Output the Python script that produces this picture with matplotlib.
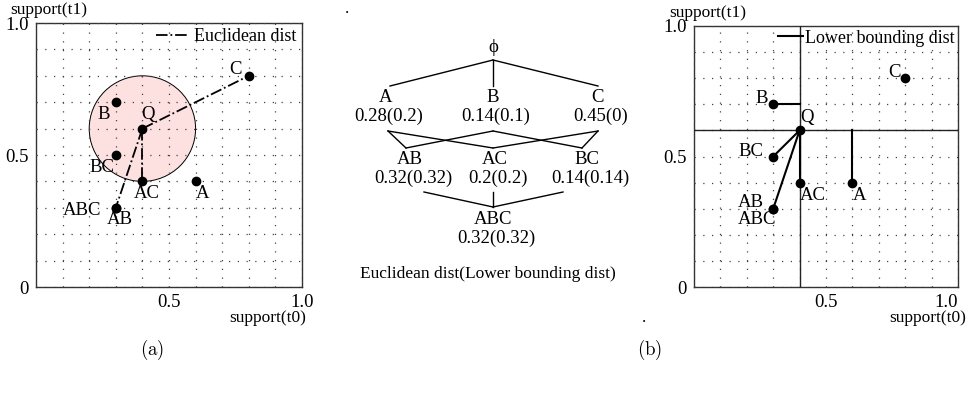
import matplotlib
matplotlib.use('Agg')
import matplotlib.pyplot as plt
from matplotlib.patches import Circle

plt.rcParams['font.family'] = ['Liberation Serif', 'DejaVu Serif']
plt.rcParams['mathtext.fontset'] = 'cm'

# points in (support(t0), support(t1))
names = ['Q', 'A', 'B', 'C', 'AB', 'AC', 'BC', 'ABC']
sup_t0 = [0.4, 0.6, 0.3, 0.8, 0.3, 0.4, 0.3, 0.3]
sup_t1 = [0.6, 0.4, 0.7, 0.8, 0.3, 0.4, 0.5, 0.3]
radius = 0.2  # query range

# lines drawn from Q in panel (a)
euclid_to = ['C', 'AB', 'AC']
# lower bounding segments in panel (b): (from, to)
lower_segs = [((0.3, 0.7), (0.4, 0.7)), ((0.4, 0.6), (0.3, 0.5)),
              ((0.4, 0.6), (0.3, 0.3)), ((0.4, 0.6), (0.4, 0.4)),
              ((0.6, 0.4), (0.6, 0.6))]

# lattice values: Euclidean dist (lower bounding dist)
lat_nodes = ['A', 'B', 'C', 'AB', 'AC', 'BC', 'ABC']
lat_euclid = [0.28, 0.14, 0.45, 0.32, 0.2, 0.14, 0.32]
lat_lower = [0.2, 0.1, 0, 0.32, 0.2, 0.14, 0.32]

# label offsets in pixels
off_a = {'Q': (6, 14), 'A': (7, -12), 'B': (-12, -12), 'C': (-13, 6),
         'AB': (4, -12), 'AC': (4, -12), 'BC': (-14, -12), 'ABC': (-34, -3)}
off_b = {'Q': (7, 13), 'A': (7, -13), 'B': (-11, 6), 'C': (-11, 6),
         'AB': (-22, 6), 'AC': (13, -13), 'BC': (-22, 5), 'ABC': (-16, -11)}

W, H = 966, 396
fig = plt.figure(figsize=(W / 100, H / 100), dpi=100)

fs = 12.5   # axis text
fl = 13.5   # point labels / lattice


def setup(ax):
    ax.set_xlim(0, 1)
    ax.set_ylim(0, 1)
    ax.set_xticks([i / 10 for i in range(11)])
    ax.set_yticks([i / 10 for i in range(11)])
    ax.set_xticklabels(['' if i not in (5, 10) else f'{i/10:.1f}' for i in range(11)])
    ax.set_yticklabels(['0' if i == 0 else ('' if i not in (5, 10) else f'{i/10:.1f}')
                        for i in range(11)])
    ax.tick_params(length=0, labelsize=fl, pad=5)
    ax.grid(True, color='#444444', linestyle=(0, (1, 6)), linewidth=0.9)
    ax.set_axisbelow(False)
    for s in ax.spines.values():
        s.set_linewidth(1.0)
        s.set_color('#333333')


def label_points(ax, offs):
    for n, x, y in zip(names, sup_t0, sup_t1):
        dx, dy = offs[n]
        ax.annotate(n, (x, y), xytext=(dx, dy), textcoords='offset pixels',
                    ha='center', va='center', fontsize=fl)


# panel (a)
ax1 = fig.add_axes([36 / W, 1 - 287 / H, 266 / W, 264 / H])
setup(ax1)
pt = dict(zip(names, zip(sup_t0, sup_t1)))
q = pt['Q']
ax1.add_patch(Circle(q, radius, facecolor='#fde0e0', edgecolor='black',
                     linewidth=0.7, zorder=0.5))
for i, n in enumerate(euclid_to):
    ax1.plot([q[0], pt[n][0]], [q[1], pt[n][1]], color='black', lw=1.3,
             linestyle='-.', label='Euclidean dist' if i == 0 else None, zorder=3)
ax1.plot(sup_t0, sup_t1, 'o', color='black', ms=6, zorder=4)
label_points(ax1, off_a)
ax1.legend(loc='upper right', frameon=False, fontsize=fl - 0.5, handlelength=1.8,
           handletextpad=0.3, borderaxespad=0.1, borderpad=0.2)
fig.text(49 / W, 1 - 10 / H, 'support(t1)', ha='center', va='center', fontsize=fs)
fig.text(268 / W, 1 - 318 / H, 'support(t0)', ha='center', va='center', fontsize=fs)

# panel (b)
ax2 = fig.add_axes([694 / W, 1 - 287 / H, 264 / W, 261 / H])
setup(ax2)
ax2.get_xticklabels()[-1].set_horizontalalignment('right')
ax2.axvline(q[0], color='#222222', lw=1.0, zorder=3)
ax2.axhline(q[1], color='#222222', lw=1.0, zorder=3)
for i, (p0, p1) in enumerate(lower_segs):
    ax2.plot([p0[0], p1[0]], [p0[1], p1[1]], color='black', lw=1.5, zorder=3,
             label='Lower bounding dist' if i == 0 else None)
ax2.plot(sup_t0, sup_t1, 'o', color='black', ms=6, zorder=4)
label_points(ax2, off_b)
ax2.legend(loc='upper right', frameon=False, fontsize=fl - 0.5, handlelength=1.4,
           handletextpad=0.1, borderaxespad=0.0, borderpad=0.2)
fig.text(708 / W, 1 - 13 / H, 'support(t1)', ha='center', va='center', fontsize=fs)
fig.text(928 / W, 1 - 318 / H, 'support(t0)', ha='center', va='center', fontsize=fs)

# middle lattice (pixel-space axes)
axm = fig.add_axes([0, 0, 1, 1], zorder=-1)
axm.set_xlim(0, W)
axm.set_ylim(H, 0)
axm.axis('off')

node_x = {'phi': 493, 'A': 386, 'B': 493, 'C': 598,
          'AB': 410, 'AC': 495, 'BC': 587, 'ABC': 493}
level_y = {'phi': 47, 'A': 98, 'B': 98, 'C': 98,
           'AB': 160, 'AC': 160, 'BC': 160, 'ABC': 220}
axm.text(node_x['phi'], level_y['phi'], '\u03d5', ha='center', va='center', fontsize=fl)
for n, e, l in zip(lat_nodes, lat_euclid, lat_lower):
    axm.text(node_x[n], level_y[n], n, ha='center', va='center', fontsize=fl)
    axm.text(node_x[n] + 3, level_y[n] + 18, f'{e:g}({l:g})', ha='center',
             va='center', fontsize=fl)

# edges: phi -> singletons
for n, x in (('A', 390), ('B', 493), ('C', 598)):
    axm.plot([493, x], [60, 86], color='black', lw=1.0)
# singletons -> pairs (crossing)
tops = {'AB': 406, 'AC': 493, 'BC': 582}
bots = {'A': 388, 'B': 493, 'C': 598}
for pair in ('AB', 'AC', 'BC'):
    for s in pair:
        axm.plot([bots[s], tops[pair]], [131, 148], color='black', lw=1.0)
# pairs -> ABC
for x in (424, 493, 563):
    axm.plot([x, 493], [192, 207], color='black', lw=1.0)

axm.text(488, 274, 'Euclidean dist(Lower bounding dist)', ha='center', va='center',
         fontsize=fs)
axm.text(347, 1, '.', ha='center', va='top', fontsize=fs)
axm.text(644, 318, '.', ha='center', va='center', fontsize=fs)
axm.text(152, 350, r'$(\mathrm{a})$', ha='center', va='center', fontsize=fl)
axm.text(650, 350, r'$(\mathrm{b})$', ha='center', va='center', fontsize=fl)

fig.savefig('out.png', dpi=100)
